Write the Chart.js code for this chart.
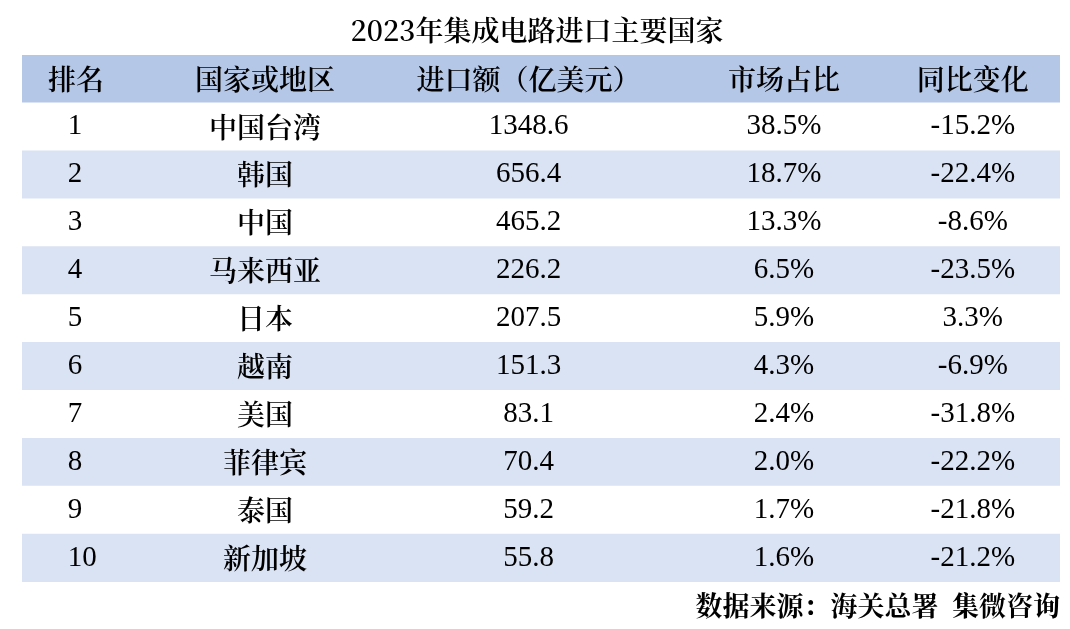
<!DOCTYPE html>
<html><head><meta charset="utf-8">
<script src="https://cdn.jsdelivr.net/npm/chart.js@4/dist/chart.umd.min.js"></script>
<style>html,body{margin:0;padding:0;background:#fff}#w{width:1070px;height:629px}</style>
</head><body><div id="w"><canvas id="c"></canvas></div>
<script>
const title = "2023年集成电路进口主要国家";
const headers = ["排名","国家或地区","进口额（亿美元）","市场占比","同比变化"];
const ranks = ["1","2","3","4","5","6","7","8","9","10"];
const regions = ["中国台湾","韩国","中国","马来西亚","日本","越南","美国","菲律宾","泰国","新加坡"];
const imports = [1348.6,656.4,465.2,226.2,207.5,151.3,83.1,70.4,59.2,55.8];
const shares = ["38.5%","18.7%","13.3%","6.5%","5.9%","4.3%","2.4%","2.0%","1.7%","1.6%"];
const yoy = ["-15.2%","-22.4%","-8.6%","-23.5%","3.3%","-6.9%","-31.8%","-22.2%","-21.8%","-21.2%"];
const source = "数据来源：海关总署  集微咨询";

const rowLabels = ["h"].concat(ranks);
const rowColors = rowLabels.map((r,i)=> i===0 ? "#b4c7e7" : (i%2===0 ? "#dae3f3" : "#ffffff"));
const colX = [0.052,0.234,0.488,0.734,0.916];
const serif = "'Liberation Serif','Noto Sans CJK SC',serif";
const cjk = "'Noto Serif CJK SC','Noto Sans CJK SC',sans-serif";

const textPlugin = {
  id:'txt',
  afterDatasetsDraw(chart){
    const ctx = chart.ctx, xs = chart.scales.x, ys = chart.scales.y;
    ctx.save();
    ctx.fillStyle = "#000"; ctx.textBaseline = "middle"; ctx.textAlign = "center";
    ctx.font = "600 28px " + cjk;
    const hy = ys.getPixelForValue(0);
    headers.forEach((h,i)=>ctx.fillText(h, xs.getPixelForValue(colX[i]), hy));
    ranks.forEach((r,k)=>{
      const y = ys.getPixelForValue(k+1);
      ctx.font = "29px " + serif; ctx.textAlign="left";
      ctx.fillText(r, xs.getPixelForValue(0.044), y);
      ctx.textAlign="center";
      ctx.font = "600 28px " + cjk;
      ctx.fillText(regions[k], xs.getPixelForValue(colX[1]), y);
      ctx.font = "29px " + serif;
      ctx.fillText(imports[k].toFixed(1), xs.getPixelForValue(colX[2]), y);
      ctx.fillText(shares[k], xs.getPixelForValue(colX[3]), y);
      ctx.fillText(yoy[k], xs.getPixelForValue(colX[4]), y);
    });
    ctx.font = "600 28px " + cjk;
    ctx.fillText(title, 537, 30);
    ctx.textAlign = "right";
    ctx.font = "bold 27px " + cjk;
    ctx.fillText(source, 1060, 606);
    ctx.restore();
  }
};

new Chart(document.getElementById('c'), {
  type:'bar',
  data:{labels:rowLabels, datasets:[{data:rowLabels.map(()=>[0,1]), backgroundColor:rowColors, borderWidth:0, barPercentage:1, categoryPercentage:1}]},
  options:{
    indexAxis:'y', responsive:true, maintainAspectRatio:false, animation:false,
    layout:{padding:{top:55,bottom:47,left:22,right:10}},
    scales:{x:{display:false,min:0,max:1},y:{display:false}},
    plugins:{legend:{display:false},tooltip:{enabled:false}}
  },
  plugins:[textPlugin]
});
</script></body></html>
